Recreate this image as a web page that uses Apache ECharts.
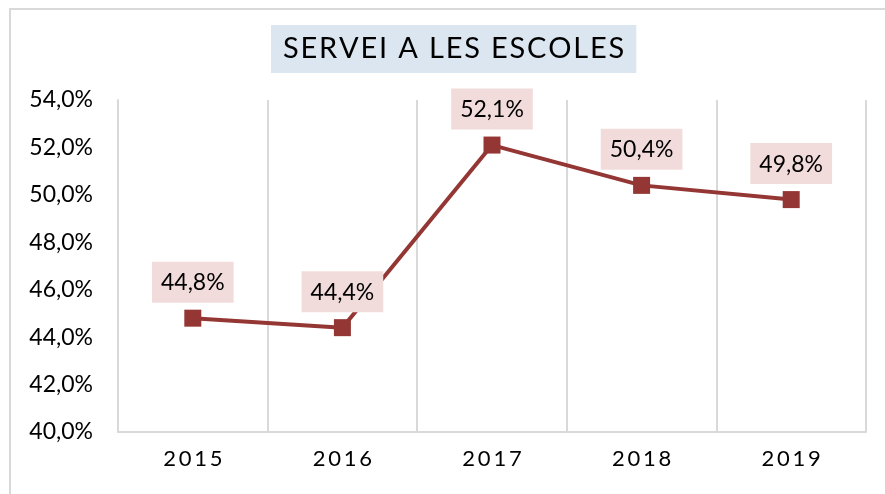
<!DOCTYPE html>
<html>
<head>
<meta charset="utf-8">
<script src="https://cdn.jsdelivr.net/npm/echarts@6/dist/echarts.min.js"></script>
<style>
html,body{margin:0;padding:0;background:#fff;}
#chart{width:885px;height:494px;}
</style>
</head>
<body>
<div id="chart"></div>
<script>
// dades
var anys = ['2015', '2016', '2017', '2018', '2019'];
var valors = [44.8, 44.4, 52.1, 50.4, 49.8];
var titol = 'SERVEI A LES ESCOLES';

// espaiat entre lletres (com a l'original)
function espaiat(txt, sep) {
    return txt.split('').join(sep);
}
function pct(v) {
    return v.toFixed(1).replace('.', ',') + '%';
}

var chart = echarts.init(document.getElementById('chart'));
var option = {
    backgroundColor: '#fff',
    textStyle: { fontFamily: 'Lato' },
    graphic: [{
        type: 'rect',
        shape: { x: 10, y: 9, width: 1000, height: 1000 },
        style: { fill: 'none', stroke: '#d9d9d9', lineWidth: 2 },
        silent: true
    }],
    title: {
        text: espaiat(titol, '\u200A'),
        left: 271,
        top: 25,
        padding: [7, 12, 7, 12],
        backgroundColor: '#dce6f1',
        textStyle: {
            fontFamily: 'Lato',
            fontWeight: 'normal',
            fontSize: 29,
            lineHeight: 34,
            color: '#000'
        }
    },
    grid: {
        left: 118,
        right: 19,
        top: 100,
        bottom: 62
    },
    xAxis: {
        type: 'category',
        data: anys,
        boundaryGap: true,
        axisLine: { lineStyle: { color: '#d9d9d9', width: 2 } },
        axisTick: { show: false },
        axisLabel: {
            color: '#000',
            fontSize: 22,
            margin: 16,
            formatter: function (v) { return espaiat(v, '\u2009'); }
        },
        splitLine: { show: true, lineStyle: { color: '#d9d9d9', width: 2 } }
    },
    yAxis: {
        type: 'value',
        min: 40,
        max: 54,
        interval: 2,
        axisLine: { show: true, lineStyle: { color: '#d9d9d9', width: 2 } },
        axisTick: { show: false },
        splitLine: { show: false },
        axisLabel: {
            color: '#000',
            fontSize: 23,
            margin: 25,
            formatter: function (v) { return pct(v); }
        }
    },
    series: [{
        type: 'line',
        data: valors,
        symbol: 'rect',
        symbolSize: 17,
        itemStyle: { color: '#943634' },
        lineStyle: { color: '#943634', width: 4 },
        label: {
            show: true,
            position: 'top',
            distance: 7,
            color: '#000',
            fontSize: 23,
            lineHeight: 26,
            backgroundColor: '#f2dcdb',
            padding: [8, 9, 7, 9],
            formatter: function (p) { return pct(p.value); }
        },
        animation: false
    }]
};
chart.setOption(option);
</script>
</body>
</html>
